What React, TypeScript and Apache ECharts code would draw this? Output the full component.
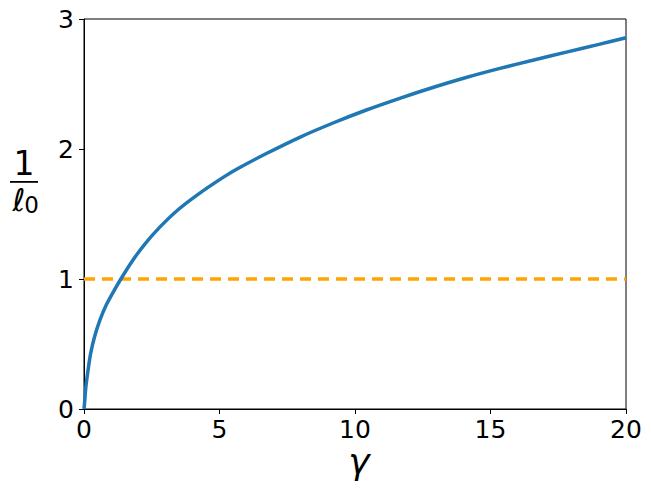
import React, { useEffect, useRef } from "react";
import * as echarts from "echarts";

const gammaValues = [0, 0.02, 0.07, 0.15, 0.245, 0.39, 0.59, 0.82, 1.12, 1.36, 1.77, 2.23, 2.78, 3.46, 4.26, 5.12, 5.68, 6.73, 7.96, 9.19, 10.42, 11.65, 12.9, 14.1, 15.35, 16.6, 17.8, 19.0, 20];
const invEllValues = [0, 0.044, 0.172, 0.3, 0.428, 0.556, 0.685, 0.8, 0.915, 1.0, 1.135, 1.265, 1.395, 1.531, 1.659, 1.78, 1.85, 1.965, 2.09, 2.2, 2.3, 2.39, 2.475, 2.55, 2.62, 2.685, 2.745, 2.805, 2.856];
const referenceGamma = [0, 20];
const referenceValues = [1, 1];
const xTicks = [0, 5, 10, 15, 20];
const yTicks = [0, 1, 2, 3];

export default function App() {
  const ref = useRef<HTMLDivElement>(null);
  useEffect(() => {
    const chart = echarts.init(ref.current!, null, { renderer: "svg" });
    const font = "DejaVu Sans";
    chart.setOption({
      animation: false,
      backgroundColor: "#ffffff",
      grid: { left: 84, right: 25, top: 19, bottom: 82, show: true, borderColor: "#000", borderWidth: 1 },
      xAxis: {
        type: "value",
        min: xTicks[0],
        max: xTicks[xTicks.length - 1],
        interval: 5,
        axisLine: { lineStyle: { color: "#000", width: 1 } },
        axisTick: { show: true, inside: false, length: 5, lineStyle: { color: "#000", width: 1 } },
        axisLabel: { color: "#000", fontSize: 25, fontFamily: font, margin: 8 },
        splitLine: { show: false },
      },
      yAxis: {
        type: "value",
        min: yTicks[0],
        max: yTicks[yTicks.length - 1],
        interval: 1,
        axisLine: { show: true, lineStyle: { color: "#000", width: 1 } },
        axisTick: { show: true, inside: false, length: 5, lineStyle: { color: "#000", width: 1 } },
        axisLabel: { color: "#000", fontSize: 25, fontFamily: font, margin: 10 },
        splitLine: { show: false },
      },
      series: [
        {
          type: "line",
          data: gammaValues.map((g, i) => [g, invEllValues[i]]),
          showSymbol: false,
          smooth: 0.3,
          lineStyle: { color: "#1f77b4", width: 3.5 },
          z: 3,
        },
        {
          type: "line",
          data: referenceGamma.map((g, i) => [g, referenceValues[i]]),
          showSymbol: false,
          lineStyle: { color: "#ffa500", width: 3.5, type: [11, 7] },
          z: 2,
        },
      ],
      graphic: [
        { type: "text", x: 24, y: 163, style: { text: "1", fontSize: 33, fontFamily: font, fill: "#000", align: "center", verticalAlign: "middle" } },
        { type: "rect", shape: { x: 10, y: 181, width: 28, height: 1.8 }, style: { fill: "#000" } },
        { type: "text", x: 19, y: 199.5, style: { text: "ℓ", fontSize: 31, fontStyle: "italic", fontFamily: font, fill: "#000", align: "center", verticalAlign: "middle" } },
        { type: "text", x: 31.5, y: 205, style: { text: "0", fontSize: 23, fontFamily: font, fill: "#000", align: "center", verticalAlign: "middle" } },
        { type: "text", x: 359, y: 461, style: { text: "γ", fontSize: 36, fontStyle: "italic", fontFamily: font, fill: "#000", align: "center", verticalAlign: "middle" } },
      ],
    });
    return () => chart.dispose();
  }, []);
  return <div ref={ref} style={{ position: "fixed", left: 0, top: 0, width: 651, height: 491 }} />;
}
